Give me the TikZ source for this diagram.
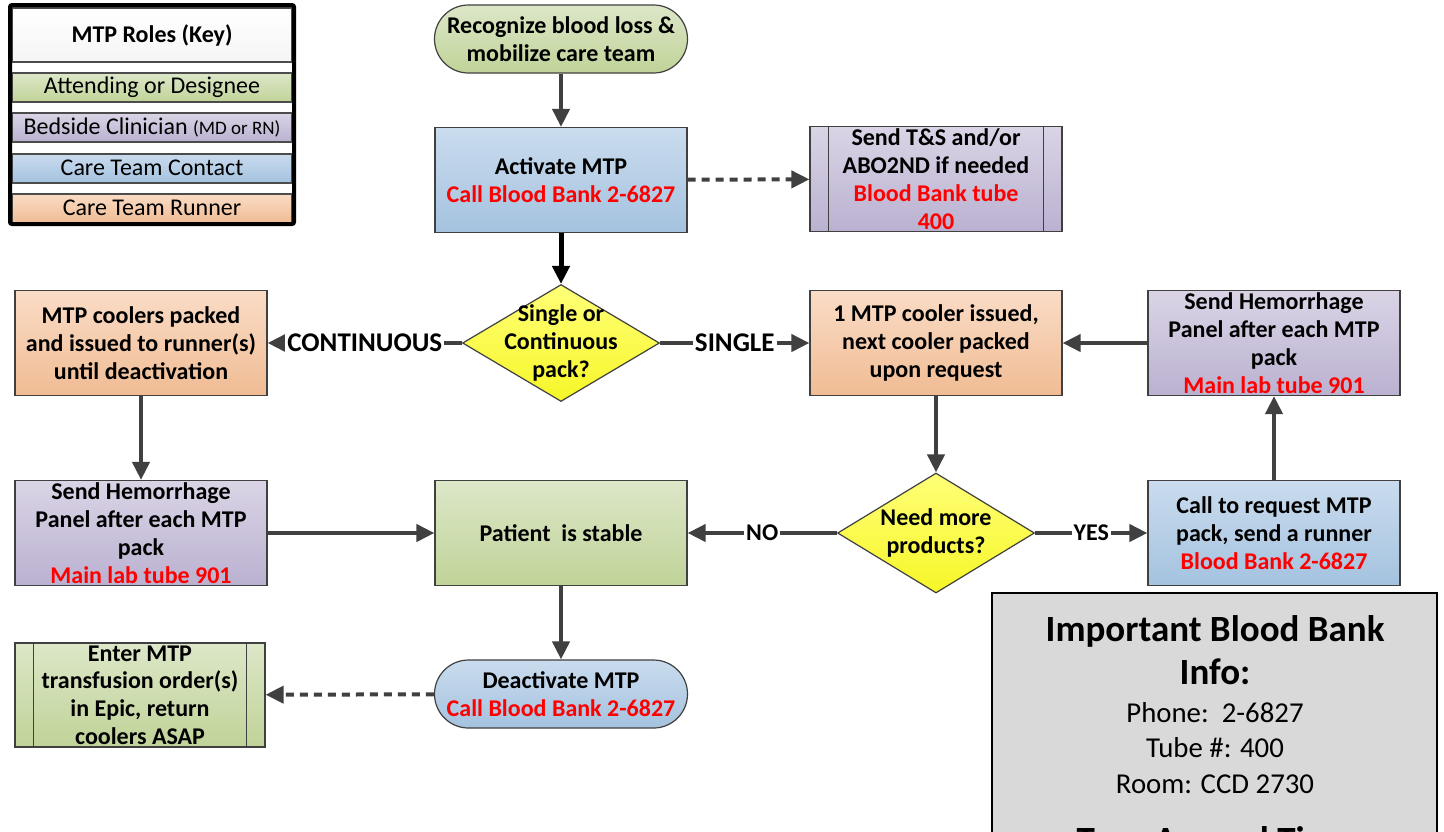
\documentclass[tikz,border=0pt]{standalone}
\usepackage{fontspec}
\setmainfont{Carlito}
\usetikzlibrary{positioning}
\usetikzlibrary{shapes.geometric}
\usetikzlibrary{arrows.meta}
\definecolor{attending top}{RGB}{220,231,200}
\definecolor{attending bottom}{RGB}{192,211,152}
\definecolor{bedside top}{RGB}{218,212,230}
\definecolor{bedside bottom}{RGB}{186,177,208}
\definecolor{contact top}{RGB}{202,220,238}
\definecolor{contact bottom}{RGB}{164,194,223}
\definecolor{runner top}{RGB}{250,220,198}
\definecolor{runner bottom}{RGB}{240,188,148}
\definecolor{decision top}{RGB}{255,255,120}
\definecolor{decision bottom}{RGB}{246,246,40}
\colorlet{line colour}{black!75}
\colorlet{border colour}{black!75}
\colorlet{info colour}{black!15}
\colorlet{bank colour}{red}
\tikzset{
    % Wide solid heads, as in the flow chart
    >={Triangle[length=9pt,width=8.5pt]},
%
    % Role fills (see key)
    attending fill/.style={top color=attending top, bottom color=attending bottom},
    bedside fill/.style={top color=bedside top, bottom color=bedside bottom},
    contact fill/.style={top color=contact top, bottom color=contact bottom},
    runner fill/.style={top color=runner top, bottom color=runner bottom},
    % Shapes
    box/.style={draw=border colour, line width=0.6pt, rectangle,
        minimum width=126pt, minimum height=52.5pt, inner xsep=2pt, inner ysep=0pt},
    terminal/.style={box, minimum height=34pt, rounded corners=17pt},
    decision/.style={draw=border colour, line width=0.6pt, diamond, inner sep=0pt,
        top color=decision top, bottom color=decision bottom},
    keyrow/.style={draw=black!70, line width=1pt, rectangle, inner sep=0pt,
        minimum width=140pt, minimum height=14.5pt, font=\mdseries\fontsize{12}{14}\selectfont},
    % Lines
    flow/.style={color=line colour, line width=2pt, ->},
    dashed flow/.style={flow, dash pattern=on 4pt off 3pt},
    branch/.style={fill=white, inner sep=1pt, text=black,
        font=\bfseries\fontsize{13.5}{15}\selectfont},
    info line/.style={anchor=base, font=\mdseries\fontsize{14.4}{18}\selectfont},
    info head/.style={anchor=base, font=\bfseries\fontsize{18.5}{22}\selectfont},
%
    every node/.style={align=center},
}
\newcommand{\bank}[1]{\textcolor{bank colour}{#1}}

\begin{document}
\begin{tikzpicture}[x=0.5pt, y=-0.5pt, font=\bfseries\fontsize{12}{13.9}\selectfont]

\useasboundingbox (0,0) rectangle (1444,831);
\fill [white] (0,0) rectangle (1444,831);

% key
\path (152,35) node (keytitle) [keyrow, top color=white, bottom color=black!4,
        minimum height=27pt] {\bfseries MTP Roles (Key)}
    (152,87.5) node (keyattending) [keyrow, attending fill] {Attending or Designee}
    (152,127.5) node (keybedside) [keyrow, bedside fill]
        {Bedside Clinician {\fontsize{9.5}{11}\selectfont(MD or RN)}}
    (152,168) node (keycontact) [keyrow, contact fill] {Care Team Contact}
    (152,208) node (keyrunner) [keyrow, runner fill] {Care Team Runner};
\draw [line width=2pt, rounded corners=1pt] (10,5) rectangle (294,224);

% main column
\path (561,39) node (start) [terminal, attending fill, minimum width=126.5pt]
        {Recognize blood loss \&\\mobilize care team}
    (561,180) node (activate) [box, contact fill]
        {Activate MTP\\\bank{Call Blood Bank 2-6827}}
    (936,179) node (sendts) [box, bedside fill]
        {Send T\&S and/or\\ABO2ND if needed\\\bank{Blood Bank tube}\\\bank{400}}
    (561,343) node (choice) [decision, minimum width=98.5pt, minimum height=58.5pt] {}
    (561,343) node (choicetext) {Single or\\Continuous\\pack?}
    (141,343) node (coolers) [box, runner fill]
        {MTP coolers packed\\and issued to runner(s)\\until deactivation}
    (936,343) node (cooler) [box, runner fill]
        {1 MTP cooler issued,\\next cooler packed\\upon request}
    (1274,343) node (hemright) [box, bedside fill]
        {Send Hemorrhage\\Panel after each MTP\\pack\\\bank{Main lab tube 901}}
    (141,533) node (hemleft) [box, bedside fill]
        {Send Hemorrhage\\Panel after each MTP\\pack\\\bank{Main lab tube 901}}
    (561,533) node (stable) [box, attending fill] {Patient\ \ is stable}
    (936,533) node (needmore) [decision, minimum width=98.5pt, minimum height=60pt] {}
    (936,533) node (needmoretext) {Need more\\products?}
    (1274,533) node (callreq) [box, contact fill]
        {Call to request MTP\\pack, send a runner\\\bank{Blood Bank 2-6827}}
    (561,694) node (deactivate) [terminal, contact fill, minimum width=126.5pt]
        {Deactivate MTP\\\bank{Call Blood Bank 2-6827}}
    (140,695) node (enter) [box, attending fill, minimum width=125pt, minimum height=52pt]
        {Enter MTP\\transfusion order(s)\\in Epic, return\\coolers ASAP};

% side bars of the predefined steps
\foreach \n in {sendts, enter} {
    \draw [border colour, line width=0.6pt]
        ([xshift=9.5pt]\n.north west) -- ([xshift=9.5pt]\n.south west)
        ([xshift=-9.5pt]\n.north east) -- ([xshift=-9.5pt]\n.south east);
}

% info panel
\node (info) [draw, line width=0.8pt, fill=info colour, rectangle,
    minimum width=222.5pt, minimum height=153.5pt] at (1214.5,746.5) {};
\path (1215,641) node (infohead) [info head] {Important Blood Bank}
    (1215,684) node (infohead2) [info head] {Info:}
    (1215,722) node (infophone) [info line] {Phone:\ \ 2-6827}
    (1215,757.5) node (infotube) [info line] {Tube \#: 400}
    (1215,793) node (inforoom) [info line] {Room: CCD 2730}
    (1215,852) node (infoturn) [info head] {Turn Around Time};

% connectors
\draw [flow] (start) -- (activate);
\draw [flow, black, line width=2.5pt] (activate) -- (choice);
\draw [dashed flow] (activate) -- (sendts);
\draw [flow] (choice) -- node (contlabel) [branch] {CONTINUOUS} (coolers);
\draw [flow] (choice) -- node (singlelabel) [branch] {SINGLE} (cooler);
\draw [flow] (hemright) -- (cooler);
\draw [flow] (cooler) -- (needmore);
\draw [flow] (coolers) -- (hemleft);
\draw [flow] (hemleft) -- (stable);
\draw [flow] (needmore) -- node (nolabel) [branch, font=\bfseries\fontsize{12}{14}\selectfont] {NO} (stable);
\draw [flow] (needmore) -- node (yeslabel) [branch, font=\bfseries\fontsize{12}{14}\selectfont] {YES} (callreq);
\draw [flow] (callreq) -- (hemright);
\draw [flow] (stable) -- (deactivate);
\draw [dashed flow] (deactivate) -- (enter);

\end{tikzpicture}
\end{document}
